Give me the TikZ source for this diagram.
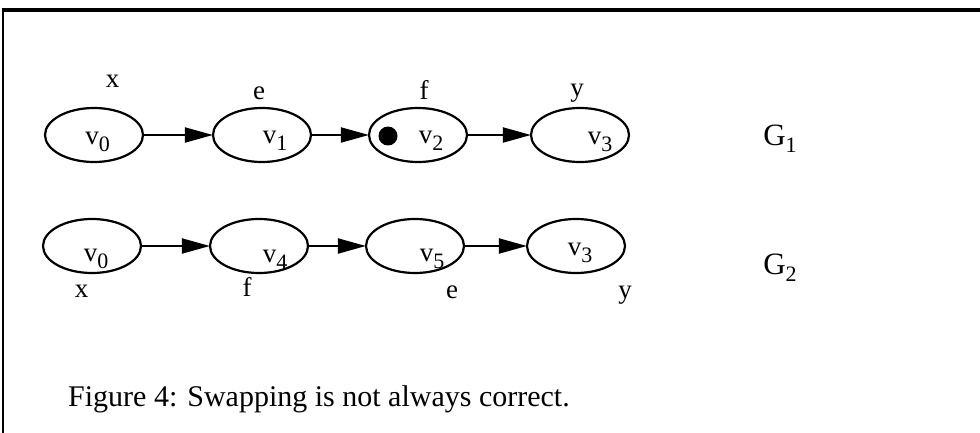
\documentclass[tikz,border=0pt]{standalone}
\usepackage{fontspec}
\setmainfont{Liberation Serif}
\usetikzlibrary{shapes.geometric,arrows.meta}
\newcommand\vsb[1]{\raisebox{-7pt}{\fontsize{22}{22}\selectfont #1}}
\begin{document}
\begin{tikzpicture}[x=1pt,y=-1pt,
  vert/.style={draw,ellipse,line width=2.2pt,minimum width=98pt,minimum height=54pt,inner sep=0pt},
  vlab/.style={anchor=base,inner sep=0pt,font=\fontsize{27}{30}\selectfont},
  elab/.style={anchor=base,inner sep=0pt,font=\fontsize{27}{30}\selectfont},
  glab/.style={anchor=base,inner sep=0pt,font=\fontsize{31}{34}\selectfont},
  arr/.style={line width=2pt,-{Triangle[length=28pt,width=15pt]},shorten >=-1pt}]
\useasboundingbox (0,0) rectangle (980,433);
% frame
\draw[line width=3.3pt] (1.5,10) -- (980,10);
\draw[line width=1.5pt] (3,10) -- (3,433);
% G1
\node[vert] (a0) at (94,135) {};
\node[vert] (a1) at (262,135) {};
\node[vert] (a2) at (418,135) {};
\node[vert] (a3) at (580,135) {};
\node[vlab] (ta0) at (97.5,145) {v\vsb{0}};
\node[vlab] (ta1) at (275,143) {v\vsb{1}};
\node[vlab] (ta2) at (431,143) {v\vsb{2}};
\node[vlab] (ta3) at (600,145) {v\vsb{3}};
\fill (388,136) circle (9.5pt);
\coordinate (dot) at (388,136);
\draw[arr] (a0.east) -- (a1.west);
\draw[arr] (a1.east) -- (a2.west);
\draw[arr] (a2.east) -- (a3.west);
\node[elab] (la0) at (112.5,88) {x};
\node[elab] (la1) at (259,100) {e};
\node[elab] (la2) at (424,100) {f};
\node[elab] (la3) at (577,97) {y};
\node[glab] (g1) at (780,146) {G\vsb{1}};
% G2
\node[vert] (b0) at (92,246) {};
\node[vert] (b1) at (259,246) {};
\node[vert] (b2) at (415,246) {};
\node[vert] (b3) at (576,246) {};
\node[vlab] (tb0) at (96,261) {v\vsb{0}};
\node[vlab] (tb1) at (275,262) {v\vsb{4}};
\node[vlab] (tb2) at (432,261) {v\vsb{5}};
\node[vlab] (tb3) at (580,255) {v\vsb{3}};
\draw[arr] (b0.east) -- (b1.west);
\draw[arr] (b1.east) -- (b2.west);
\draw[arr] (b2.east) -- (b3.west);
\node[elab] (lb0) at (81.5,297) {x};
\node[elab] (lb1) at (247,296) {f};
\node[elab] (lb2) at (452,298) {e};
\node[elab] (lb3) at (625,298) {y};
\node[glab] (g2) at (780,274) {G\vsb{2}};
% caption
\node[anchor=base west,inner sep=0pt,font=\fontsize{30}{34}\selectfont] (cap) at (68,406) {Figure 4: Swapping is not always correct.};
\end{tikzpicture}
\end{document}
